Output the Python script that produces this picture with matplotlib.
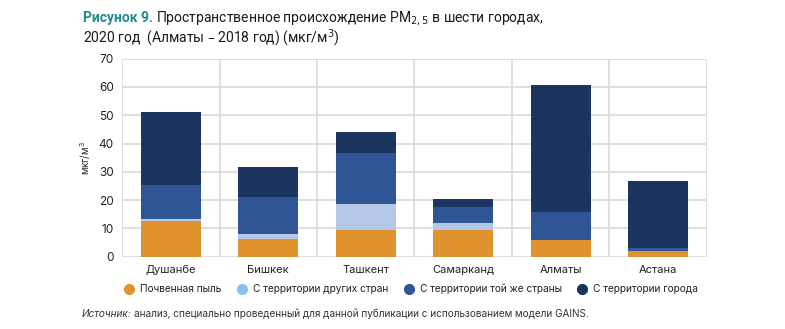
import matplotlib
matplotlib.use("Agg")
import matplotlib.pyplot as plt
from matplotlib.lines import Line2D
import numpy as np

plt.rcParams['font.family'] = ['Inter', 'DejaVu Sans']

cities = ["Душанбе", "Бишкек", "Ташкент", "Самарканд", "Алматы", "Астана"]
soil_dust = [12.5, 6.2, 9.5, 9.5, 6.0, 2.0]
other_countries = [1.0, 1.9, 9.2, 2.4, 0.0, 0.0]
same_country = [12.0, 13.1, 17.8, 5.8, 9.8, 1.1]
city_territory = [25.5, 10.6, 7.7, 2.8, 45.0, 23.7]
series_names = ["Почвенная пыль", "С территории других стран",
                "С территории той же страны", "С территории города"]
bar_colors = ["#E0922F", "#B4C7E7", "#2F5597", "#1C355E"]
legend_colors = ["#E0922F", "#8ABEF5", "#2F5597", "#1C355E"]
yticks = [0, 10, 20, 30, 40, 50, 60, 70]

fig = plt.figure(figsize=(7.85, 3.29), dpi=100)
ax = fig.add_axes([122/785, 1-256.7/329, (707-122)/785, (256.7-58.7)/329])

x = np.arange(len(cities))
bottom = np.zeros(len(cities))
for vals, col in zip([soil_dust, other_countries, same_country, city_territory], bar_colors):
    ax.bar(x, vals, 0.62, bottom=bottom, color=col, zorder=3, linewidth=0)
    bottom += np.array(vals)

ax.set_xlim(-0.5, len(cities)-0.5)
ax.set_ylim(0, 70)
ax.set_yticks(yticks)
ax.set_xticks(x)
ax.set_xticklabels(cities, fontsize=8, color="#222222")
ax.tick_params(axis='y', labelsize=8.5, colors="#222222", length=0, pad=6)
ax.tick_params(axis='x', length=0, pad=6)
ax.yaxis.grid(True, color="#D9D9D9", linewidth=1.2, zorder=0)
for b in np.arange(-0.5, len(cities), 1.0):
    ax.axvline(b, color="#D9D9D9", linewidth=1.2, zorder=0)
for s in ax.spines.values():
    s.set_visible(False)
ax.set_ylabel("мкг/м$^3$", fontsize=7, color="#222222", labelpad=4)

handles = [Line2D([0], [0], marker='o', linestyle='', markersize=7,
                  markerfacecolor=c, markeredgecolor=c) for c in legend_colors]
fig.legend(handles, series_names, loc='center', bbox_to_anchor=(411/785, 1-289/329),
           ncol=4, frameon=False, fontsize=7.3, handletextpad=0.6, columnspacing=1.5,
           handlelength=1.0, labelcolor="#222222")

# Title
renderer = fig.canvas.get_renderer()
tfont = ['Roboto', 'DejaVu Sans']
t1 = fig.text(83/785, 1-18/329, "Рисунок 9.", fontsize=10, fontweight='bold',
              color="#1E8C8C", va='center', ha='left', family=tfont)
bb = t1.get_window_extent(renderer)
fig.text(bb.x1/785 + 3/785, 1-18/329,
         "Пространственное происхождение PM$_{2,5}$ в шести городах,",
         fontsize=10, color="#1A1A1A", va='center', ha='left', family=tfont)
fig.text(83/785, 1-38/329, "2020 год  (Алматы – 2018 год) (мкг/м$^3$)",
         fontsize=10, color="#1A1A1A", va='center', ha='left', family=tfont)

# Source
s1 = fig.text(82/785, 1-314/329, "Источник:", fontsize=7.2, style='italic',
              color="#333333", va='center', ha='left')
bb2 = s1.get_window_extent(renderer)
fig.text(bb2.x1/785 + 2/785, 1-314/329,
         "анализ, специально проведенный для данной публикации с использованием модели GAINS.",
         fontsize=7.2, color="#333333", va='center', ha='left')

fig.savefig("out.png", dpi=100)
